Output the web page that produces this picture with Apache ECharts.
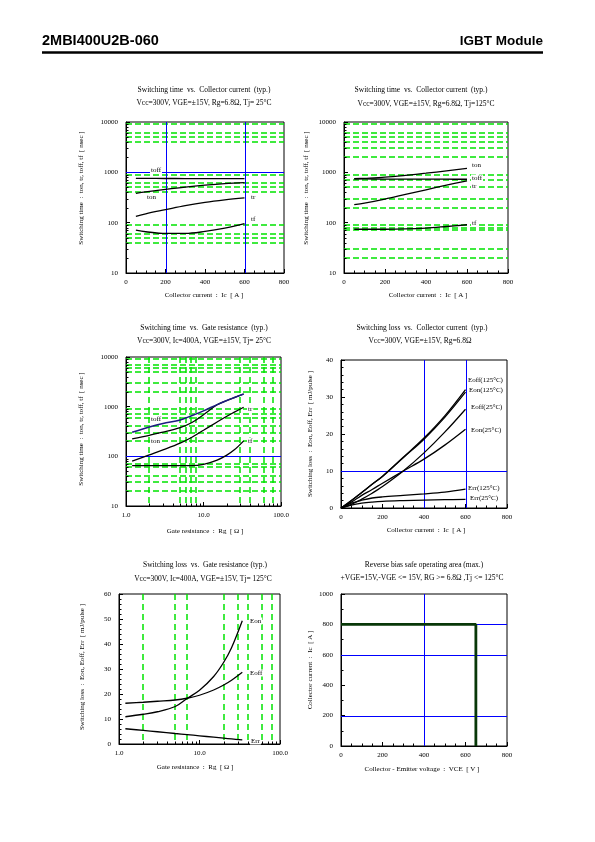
<!DOCTYPE html>
<html><head><meta charset="utf-8">
<script src="https://cdn.jsdelivr.net/npm/echarts@6/dist/echarts.min.js"></script>
<style>html,body{margin:0;padding:0;background:#fff}#c{width:595px;height:842px}</style>
</head><body><div id="c"></div>
<script>
// ===== DATA =====
// Chart 1: Switching time vs Ic, Tj=25C
const ic = [50, 100, 200, 300, 400, 500, 600];
const c1_toff = [760, 758, 755, 753, 752, 752, 752];
const c1_ton  = [383, 410, 460, 510, 555, 595, 625];
const c1_tr   = [134, 150, 181, 218, 254, 285, 312];
const c1_tf   = [71, 66, 61, 61, 67, 78, 96];
// Chart 2: Switching time vs Ic, Tj=125C
const c2_ton  = [745, 760, 800, 870, 960, 1070, 1200];
const c2_toff = [740, 738, 735, 733, 731, 730, 728];
const c2_tr   = [228, 245, 295, 365, 450, 555, 680];
const c2_tf   = [74, 74, 74, 75, 78, 84, 91];
// Chart 3: Switching time vs Rg
const rg3 = [1.2, 2, 3, 5, 7, 10, 15, 20, 25, 33];
const c3_toff = [305, 390, 460, 540, 655, 825, 1100, 1330, 1525, 1800];
const c3_ton  = [225, 265, 306, 380, 474, 690, 1090, 1330, 1525, 1800];
const c3_tr   = [80, 107, 135, 185, 240, 336, 492, 641, 774, 975];
const c3_tf   = [65, 65, 65, 65, 65, 69, 84, 106, 135, 205];
// Chart 4: Switching loss vs Ic
const ic4 = [0, 50, 100, 150, 200, 300, 400, 500, 600];
const c4_eoff125 = [0, 2.0, 4.2, 6.4, 8.6, 13.7, 18.9, 24.9, 32.0];
const c4_eon125  = [0, 2.0, 4.2, 6.4, 8.5, 13.6, 18.6, 24.5, 31.3];
const c4_eoff25  = [0, 1.0, 2.4, 4.0, 5.8, 10.0, 14.9, 20.5, 26.7];
const c4_eon25   = [0, 1.6, 3.4, 5.0, 6.7, 10.0, 13.2, 17.0, 21.3];
const c4_err125  = [0, 1.3, 2.1, 2.7, 3.0, 3.4, 3.8, 4.3, 5.1];
const c4_err25   = [0, 0.8, 1.3, 1.6, 1.8, 2.0, 2.15, 2.25, 2.35];
// Chart 5: Switching loss vs Rg
const rg5 = [1.2, 2, 3, 5, 7, 10, 15, 20, 25, 34];
const c5_eon  = [10.9, 11.9, 12.9, 15.0, 18.2, 21.5, 27.0, 32.7, 38.5, 49.3];
const c5_eoff = [16.3, 16.7, 17.1, 17.6, 18.3, 19.5, 21.6, 23.6, 25.5, 28.7];
const c5_err  = [6.1, 5.45, 4.9, 4.2, 3.76, 3.28, 2.73, 2.34, 2.04, 1.62];
// Chart 6: RBSOA
const rbsoaV = [0, 650, 650];
const rbsoaI = [800, 800, 0];

// reference (grid) lines
const g1_greenH = [9000, 6000, 5000, 4000, 900, 600, 500, 400, 90, 60, 50, 40];
const g1_blueH = [1000];
const g1_blueV = [200, 600];
const g2_greenH = [9000, 6000, 5000, 4000, 3000, 2000, 900, 700, 500, 300, 200, 90, 80, 70, 30, 20];
const g3_greenH = [9000, 7000, 6000, 5000, 3000, 2000, 900, 700, 600, 400, 300, 200, 70, 60, 40, 30, 20];
const g3_greenV = [2, 5, 6, 7, 8, 30, 40, 60, 80];
const g3_blueH = [100];
const g4_blueV = [400, 600];
const g4_blueH = [10];
const g5_greenV = [2, 5, 7, 20, 30, 40, 60, 80];
const g6_blueV = [400];
const g6_blueH = [200, 600, 800];

// log minor ticks
const logMinorT = [20,30,40,50,60,70,80,90,200,300,400,500,600,700,800,900,2000,3000,4000,5000,6000,7000,8000,9000];
const logMinorR = [2,3,4,5,6,7,8,9,20,30,40,50,60,70,80,90];

// ===== LAYOUT / STYLE =====
const SERIF = '"Liberation Serif", "DejaVu Serif", serif';
const SANS = '"Liberation Sans", Arial, sans-serif';
const GREEN = '#00e400';
const BLUE = '#0000ff';
const grids = [
  {left:126, top:122, width:158, height:151},
  {left:344, top:122, width:164, height:151},
  {left:126, top:357, width:155, height:149},
  {left:341, top:360, width:166, height:148},
  {left:119, top:594, width:161, height:150},
  {left:341, top:594, width:166, height:152}
];

function baseAxis(extra) {
  return Object.assign({
    axisLine: {show: true, lineStyle: {color: '#000', width: 1}},
    axisTick: {show: true, inside: true, length: 4, lineStyle: {color: '#000'}},
    axisLabel: {color: '#000', fontSize: 7, fontFamily: SERIF, margin: 6},
    splitLine: {show: false}
  }, extra);
}
function linAxis(gi, min, max, interval, minorSplit, isY) {
  const a = baseAxis({gridIndex: gi, type: 'value', min: min, max: max, interval: interval,
    minorTick: {show: minorSplit > 0, splitNumber: minorSplit || 1, length: 2.5, lineStyle: {color: '#000'}}});
  a.axisLabel.formatter = v => String(v);
  if (isY) a.axisLabel.margin = 8;
  return a;
}
function logAxis(gi, min, max, isY, fix) {
  const a = baseAxis({gridIndex: gi, type: 'log', logBase: 10, min: min, max: max});
  a.axisLabel.formatter = v => fix ? (Math.round(v * 10) / 10).toFixed(1) : String(Math.round(v));
  if (isY) a.axisLabel.margin = 8;
  return a;
}

const xAxes = [
  linAxis(0, 0, 800, 200, 4),
  linAxis(1, 0, 800, 200, 4),
  logAxis(2, 1, 100, false, true),
  linAxis(3, 0, 800, 200, 4),
  logAxis(4, 1, 100, false, true),
  linAxis(5, 0, 800, 200, 4)
];
const yAxes = [
  logAxis(0, 10, 10000, true),
  logAxis(1, 10, 10000, true),
  logAxis(2, 10, 10000, true),
  linAxis(3, 0, 40, 10, 5, true),
  linAxis(4, 0, 60, 10, 5, true),
  linAxis(5, 0, 1000, 200, 2, true)
];

function refLines(gi, vals, dir, color, dash, anchor) {
  const w = dash ? 1.5 : 1;
  return {
    type: 'custom', xAxisIndex: gi, yAxisIndex: gi, silent: true, z: 2, animation: false,
    data: vals.map(v => dir === 'h' ? [anchor, v] : [v, anchor]),
    renderItem: function (params, api) {
      const cs = params.coordSys;
      const p = api.coord([api.value(0), api.value(1)]);
      const st = {stroke: color, lineWidth: w, lineDash: dash ? dash.slice() : null, fill: null};
      const off = dash ? 0 : 0.5;
      if (dir === 'h') {
        const y = Math.round(p[1]) + off;
        return {type: 'line', shape: {x1: cs.x, y1: y, x2: cs.x + cs.width, y2: y}, style: st};
      } else {
        const x = Math.round(p[0]) + off;
        return {type: 'line', shape: {x1: x, y1: cs.y, x2: x, y2: cs.y + cs.height}, style: st};
      }
    }
  };
}
function minorTicks(gi, vals, dir, anchor) {
  return {
    type: 'custom', xAxisIndex: gi, yAxisIndex: gi, silent: true, z: 6, animation: false,
    data: vals.map(v => dir === 'y' ? [anchor, v] : [v, anchor]),
    renderItem: function (params, api) {
      const cs = params.coordSys;
      const p = api.coord([api.value(0), api.value(1)]);
      const st = {stroke: '#000', lineWidth: 1, fill: null};
      if (dir === 'y') {
        const y = Math.round(p[1]) + 0.5;
        return {type: 'line', shape: {x1: cs.x, y1: y, x2: cs.x + 2.5, y2: y}, style: st};
      } else {
        const x = Math.round(p[0]) + 0.5;
        return {type: 'line', shape: {x1: x, y1: cs.y + cs.height, x2: x, y2: cs.y + cs.height - 2.5}, style: st};
      }
    }
  };
}
function curve(gi, xs, ys, color, width, smooth) {
  return {
    type: 'line', xAxisIndex: gi, yAxisIndex: gi, symbol: 'none', smooth: smooth === undefined ? 0.35 : smooth,
    silent: true, animation: false, z: 10,
    lineStyle: {color: color || '#000', width: width || 1.3},
    data: xs.map((x, i) => [x, ys[i]])
  };
}

const DASH_H = [6, 3];
const DASH_V = [6, 4];
const series = [
  // chart 1
  refLines(0, g1_greenH, 'h', GREEN, DASH_H, 0),
  refLines(0, g1_blueH, 'h', BLUE, null, 0),
  refLines(0, g1_blueV, 'v', BLUE, null, 10),
  minorTicks(0, logMinorT, 'y', 0),
  curve(0, ic, c1_toff), curve(0, ic, c1_ton), curve(0, ic, c1_tr), curve(0, ic, c1_tf),
  // chart 2
  refLines(1, g2_greenH, 'h', GREEN, DASH_H, 0),
  minorTicks(1, logMinorT, 'y', 0),
  curve(1, ic, c2_ton), curve(1, ic, c2_toff), curve(1, ic, c2_tr), curve(1, ic, c2_tf),
  // chart 3
  refLines(2, g3_greenH, 'h', GREEN, DASH_H, 1),
  refLines(2, g3_greenV, 'v', GREEN, DASH_V, 10),
  refLines(2, g3_blueH, 'h', BLUE, null, 1),
  minorTicks(2, logMinorT, 'y', 1),
  minorTicks(2, logMinorR, 'x', 10),
  curve(2, rg3, c3_ton), curve(2, rg3, c3_toff, '#1c1c80', 1.5), curve(2, rg3, c3_tr), curve(2, rg3, c3_tf),
  // chart 4
  refLines(3, g4_blueV, 'v', BLUE, null, 0),
  refLines(3, g4_blueH, 'h', BLUE, null, 0),
  curve(3, ic4, c4_eoff125), curve(3, ic4, c4_eon125), curve(3, ic4, c4_eoff25),
  curve(3, ic4, c4_eon25), curve(3, ic4, c4_err125), curve(3, ic4, c4_err25),
  // chart 5
  refLines(4, g5_greenV, 'v', GREEN, DASH_V, 0),
  minorTicks(4, logMinorR, 'x', 0),
  curve(4, rg5, c5_eon), curve(4, rg5, c5_eoff), curve(4, rg5, c5_err),
  // chart 6
  refLines(5, g6_blueV, 'v', BLUE, null, 0),
  refLines(5, g6_blueH, 'h', BLUE, null, 0),
  curve(5, rbsoaV, rbsoaI, '#083808', 2.8, false)
];

// ===== TEXT =====
function txt(x, y, s, o) {
  o = o || {};
  return {
    type: 'text', x: x, y: y, rotation: o.rot || 0, z: 100, silent: true,
    style: {
      text: s, fill: '#000', fontSize: o.size || 7, fontFamily: o.family || SERIF,
      fontWeight: o.weight || 'normal',
      textAlign: o.align || 'center', textVerticalAlign: 'middle',
      backgroundColor: o.bg || null, padding: o.bg ? [0, 1] : 0
    }
  };
}
const T = 7.5;
const R = Math.PI / 2;
const yTime = 'Switching time  :  ton, tr, toff, tf  [ nsec ]';
const yLoss = 'Switching loss  :  Eon, Eoff, Err  [ mJ/pulse ]';
const xIc = 'Collector current  :  Ic  [ A ]';
const xRg = 'Gate resistance  :  Rg  [ \u03A9 ]';
const graphics = [
  txt(42, 41, '2MBI400U2B-060', {size: 14.5, family: SANS, weight: 'bold', align: 'left'}),
  txt(543, 41, 'IGBT Module', {size: 13.5, family: SANS, weight: 'bold', align: 'right'}),
  {type: 'line', z: 100, shape: {x1: 42, y1: 52.5, x2: 543, y2: 52.5}, style: {stroke: '#000', lineWidth: 2.5}},
  // chart 1
  txt(204, 90, 'Switching time  vs.  Collector current  (typ.)', {size: T}),
  txt(204, 103.5, 'Vcc=300V, VGE=\u00B115V, Rg=6.8\u03A9, Tj= 25\u00B0C', {size: T}),
  txt(204, 295, xIc), txt(81, 188, yTime, {rot: R}),
  txt(150, 170, 'toff', {align: 'left', bg: '#fff'}), txt(147, 197, 'ton', {align: 'left'}),
  txt(251, 197, 'tr', {align: 'left'}), txt(251, 219, 'tf', {align: 'left'}),
  // chart 2
  txt(421, 90, 'Switching time  vs.  Collector current  (typ.)', {size: T}),
  txt(426, 104, 'Vcc=300V, VGE=\u00B115V, Rg=6.8\u03A9, Tj=125\u00B0C', {size: T}),
  txt(428, 295, xIc), txt(306, 188, yTime, {rot: R}),
  txt(471, 165, 'ton', {align: 'left', bg: '#fff'}), txt(471, 178, 'toff', {align: 'left', bg: '#fff'}),
  txt(471, 186.5, 'tr', {align: 'left', bg: '#fff'}), txt(471, 223, 'tf', {align: 'left', bg: '#fff'}),
  // chart 3
  txt(204, 328, 'Switching time  vs.  Gate resistance  (typ.)', {size: T}),
  txt(204, 341, 'Vcc=300V, Ic=400A, VGE=\u00B115V, Tj= 25\u00B0C', {size: T}),
  txt(205, 531, xRg), txt(81, 429, yTime, {rot: R}),
  txt(150, 419.5, 'toff', {align: 'left', bg: '#fff'}), txt(150, 441, 'ton', {align: 'left', bg: '#fff'}),
  txt(247, 409.5, 'tr', {align: 'left', bg: '#fff'}), txt(247, 441, 'tf', {align: 'left', bg: '#fff'}),
  // chart 4
  txt(422, 328, 'Switching loss  vs.  Collector current  (typ.)', {size: T}),
  txt(420, 341, 'Vcc=300V, VGE=\u00B115V, Rg=6.8\u03A9', {size: T}),
  txt(426, 530, xIc), txt(310, 434, yLoss, {rot: R}),
  txt(468, 380, 'Eoff(125\u00B0C)', {align: 'left'}), txt(469, 390.5, 'Eon(125\u00B0C)', {align: 'left'}),
  txt(471, 407.5, 'Eoff(25\u00B0C)', {align: 'left'}), txt(471, 430, 'Eon(25\u00B0C)', {align: 'left'}),
  txt(468, 488.5, 'Err(125\u00B0C)', {align: 'left'}), txt(470, 498, 'Err(25\u00B0C)', {align: 'left'}),
  // chart 5
  txt(205, 565, 'Switching loss  vs.  Gate resistance (typ.)', {size: T}),
  txt(203, 579, 'Vcc=300V, Ic=400A, VGE=\u00B115V, Tj= 125\u00B0C', {size: T}),
  txt(195, 767, xRg), txt(82, 667, yLoss, {rot: R}),
  txt(249, 621, 'Eon', {align: 'left', bg: '#fff'}), txt(249, 673, 'Eoff', {align: 'left', bg: '#fff'}),
  txt(250, 741, 'Err', {align: 'left', bg: '#fff'}),
  // chart 6
  txt(424, 565, 'Reverse bias safe operating area (max.)', {size: T}),
  txt(422, 578, '+VGE=15V,-VGE <= 15V, RG >= 6.8\u03A9 ,Tj <= 125\u00B0C', {size: T}),
  txt(422, 769, 'Collector - Emitter voltage  :  VCE  [ V ]'), txt(310, 670, 'Collector current  :  Ic  [ A ]', {rot: R})
];

const chart = echarts.init(document.getElementById('c'), null, {renderer: 'canvas'});
chart.setOption({
  animation: false,
  backgroundColor: '#fff',
  grid: grids.map(g => Object.assign({show: true, borderColor: '#000', borderWidth: 1, backgroundColor: 'transparent', containLabel: false}, g)),
  xAxis: xAxes,
  yAxis: yAxes,
  series: series,
  graphic: graphics
});
</script>
</body></html>
